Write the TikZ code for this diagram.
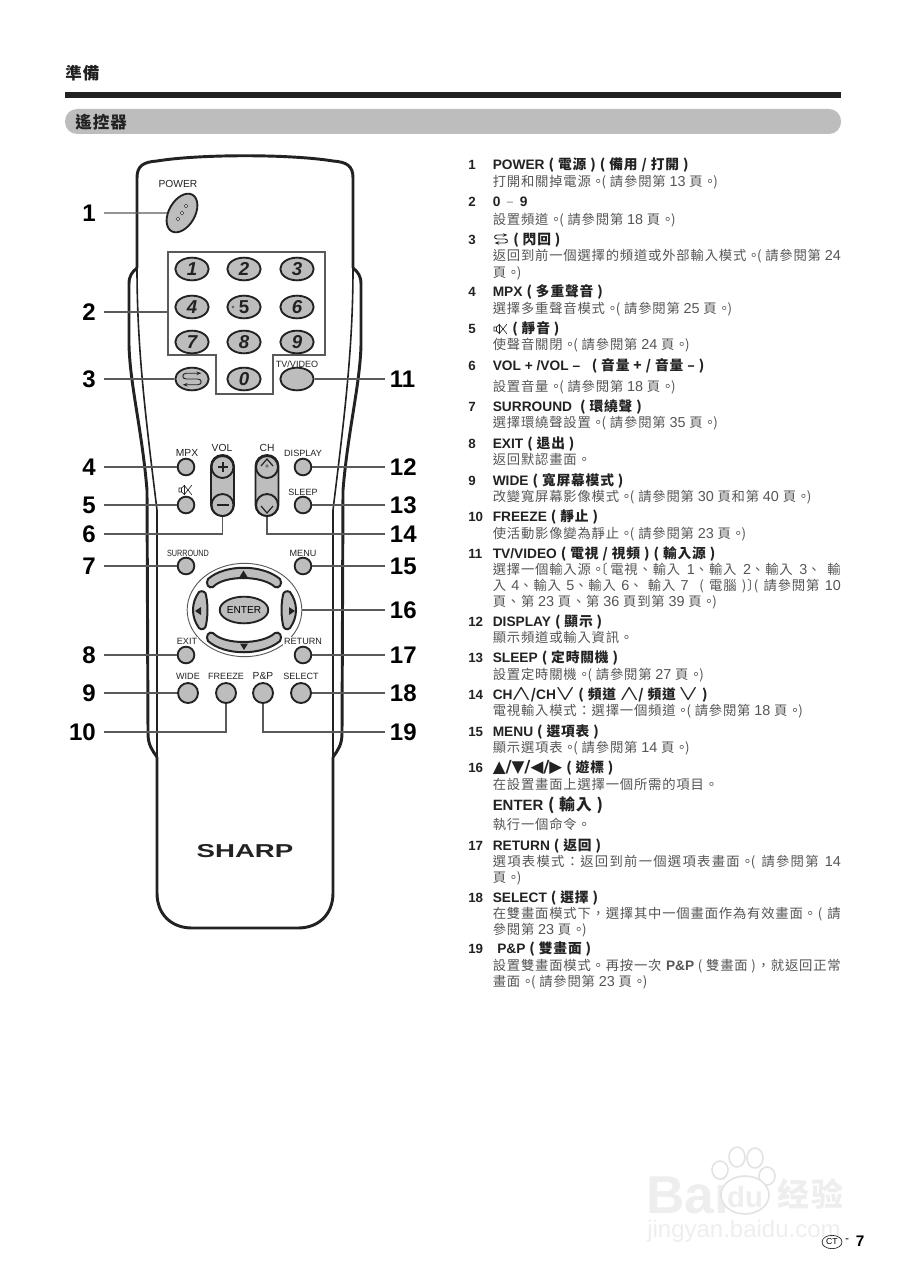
\documentclass[tikz,border=0pt]{standalone}
\usepackage{fontspec}
\usepackage{amssymb}
\setmainfont{Noto Sans CJK TC}[LetterSpace=6]
\newfontfamily\helv{Liberation Sans}
\newfontfamily\symb{DejaVu Sans}
\usetikzlibrary{shapes.geometric,arrows.meta}
\definecolor{keygray}{HTML}{BDBDBD}
\definecolor{ink}{HTML}{222222}
\definecolor{leadgray}{HTML}{5A5A5A}
\definecolor{bodygray}{HTML}{555555}
\newcommand\hv[1]{{\helv\fontsize{10.3}{10}\selectfont #1}}
\newcommand\dg[1]{{\helv\fontsize{10.8}{10}\selectfont #1}}
\newcommand\seep[1]{。\kern-2.5pt( 請參閱第 \dg{#1}}
\newcommand\yo{頁。\kern-2.5pt)}
\newcommand\ye{ \yo}
\newcommand\justline[1]{\makebox[261pt][s]{#1}}
\newcommand\wedgeup{\smash{\raisebox{1.5pt}{\scalebox{1.6}[.95]{$\bigwedge$}}}}
\newcommand\wedgedn{\smash{\raisebox{1.5pt}{\scalebox{1.6}[.95]{$\bigvee$}}}}
\tikzset{
  key/.style={draw=ink,fill=keygray,line width=1.4pt,inner sep=0pt},
  numkey/.style={key,ellipse,minimum width=25pt,minimum height=17pt,
    font=\helv\bfseries\itshape\fontsize{14}{14}\selectfont,text=ink},
  roundkey/.style={key,circle,minimum size=12.5pt},
  widekey/.style={key,circle,minimum size=15pt},
  leader/.style={draw=leadgray,line width=.8pt},
  lnum/.style={anchor=east,inner xsep=6pt,inner ysep=0pt,font=\helv\bfseries\fontsize{18}{18}\selectfont},
  rnum/.style={anchor=west,inner xsep=3.5pt,inner ysep=0pt,font=\helv\bfseries\fontsize{18}{18}\selectfont},
  keylabel/.style={inner sep=.5pt,text=ink,font=\helv\fontsize{6.8}{7}\selectfont},
  biglabel/.style={inner sep=.5pt,text=ink,font=\helv\fontsize{7.7}{8}\selectfont},
  itemnum/.style={anchor=base west,inner sep=0pt,text=ink,font=\helv\bfseries\fontsize{10}{10}\selectfont},
  headline/.style={anchor=base west,inner sep=0pt,text=ink,font=\bfseries\fontsize{10.3}{10}\selectfont},
  bodyline/.style={anchor=base west,inner sep=0pt,text=bodygray,font=\fontsize{10}{10}\selectfont},
  pawmark/.style={draw=gray!22,fill=white,line width=1.2pt},
  marktext/.style={inner sep=0pt,text=gray!13},
  flash/.pic={\draw[ink,line width=.7pt,{Stealth[length=3.5pt]}-{Stealth[length=3.5pt]}]
    (8,-5) -- (-5,-5) .. controls (-9,-5) and (-9,0) .. (-5,0) -- (5,0)
    .. controls (9,0) and (9,5) .. (5,5) -- (-8,5);},
  mute/.pic={\draw[ink,line width=.45pt] (-7,-2) rectangle (-4.5,2)
    (-4.5,-2) -- (-1.5,-4.5) -- (-1.5,4.5) -- (-4.5,2)
    (-2,-5) -- (6,5) (-2,5) -- (6,-5);},
}
\begin{document}
\begin{tikzpicture}[x=.75pt,y=-.75pt]
  \useasboundingbox (0,0) rectangle (906,1280);
  % page head
  \node[anchor=west,inner sep=0pt,text=ink,font=\bfseries\fontsize{12.4}{13}\selectfont] (chapter) at (65,73) {準備};
  \fill[ink] (65,92) rectangle (841,98);
  \fill[keygray,rounded corners=9pt] (65,109) rectangle (841,134);
  \node[anchor=west,inner sep=0pt,text=ink,font=\bfseries\fontsize{12.4}{13}\selectfont] (section) at (75,122) {遙控器};
  % watermark
  \node[anchor=west,marktext,font=\helv\bfseries\fontsize{40}{40}\selectfont] (wbai) at (646,1194) {Bai};
  \draw[pawmark] (737,1157) ellipse (8 and 10);
  \draw[pawmark] (755,1158) ellipse (8 and 10);
  \draw[pawmark] (720,1170) ellipse (8 and 9);
  \draw[pawmark] (767,1176) ellipse (8 and 9);
  \draw[pawmark] (745,1195) ellipse (24 and 19);
  \node[marktext,font=\helv\bfseries\fontsize{22}{22}\selectfont] (wdu) at (745,1197) {du};
  \node[anchor=west,marktext,font=\bfseries\fontsize{24}{24}\selectfont] (wjy) at (777,1194) {经验};
  \node[anchor=west,marktext,font=\helv\fontsize{18}{18}\selectfont] (wurl) at (647,1231) {jingyan.baidu.com};
  % page number
  \node[ellipse,draw=ink,line width=.5pt,inner sep=0pt,minimum width=15pt,minimum height=10pt,font=\helv\fontsize{6.5}{7}\selectfont] (ct) at (832,1242) {CT};
  \node[inner sep=0pt,font=\helv\fontsize{9}{9}\selectfont] (dash) at (847,1241) {-};
  \node[inner sep=0pt,font=\helv\bfseries\fontsize{11.5}{12}\selectfont] (page) at (860,1241) {7};
  % remote, body
  \draw[ink,line width=2.2pt] (137,268) -- (137,178) .. controls (137,166) and (143,162) .. (157,161)
    .. controls (200,154) and (290,154) .. (333,161) .. controls (347,162) and (353,166) .. (353,178) -- (353,268);
  \draw[ink,line width=2.2pt] (157,757) -- (157,893) .. controls (157,915) and (172,928) .. (192,928) -- (298,928)
    .. controls (318,928) and (333,915) .. (333,893) -- (333,757);
  % groove
  \draw[ink,line width=1.2pt] (137,268) .. controls (137,350) and (146,420) .. (157,510) -- (157,757);
  \draw[ink,line width=1.2pt] (353,268) .. controls (353,350) and (344,420) .. (333,510) -- (333,757);
  % side grips
  \draw[ink,line width=2.2pt] (137,268) .. controls (132,272) and (129,276) .. (129,284) -- (129,345)
    .. controls (130,385) and (142,430) .. (147,490) -- (148,733) .. controls (148,745) and (152,750) .. (157,757);
  \draw[ink,line width=2.2pt] (353,268) .. controls (358,272) and (361,276) .. (361,284) -- (361,345)
    .. controls (360,385) and (348,430) .. (343,490) -- (342,733) .. controls (342,745) and (338,750) .. (333,757);
  % logo
  \node[inner sep=0pt,text=ink,font=\helv\bfseries\fontsize{14}{14}\selectfont] (logo) at (245,851) {\scalebox{1.48}[1]{SHARP}};
  % digit frame
  \draw[leadgray,line width=1.1pt] (168,252) -- (325,252) -- (325,355) -- (273,355) -- (273,394) -- (216,394) -- (216,355) -- (168,355) -- cycle;
  \coordinate (frame) at (168,312);
  % power key
  \node[key,ellipse,rotate=60,minimum width=31.5pt,minimum height=19.5pt] (power) at (182,213) {};
  \draw[ink,line width=.4pt,fill=white] (186,206) circle (1.7) (182,213) circle (1.7) (178,219) circle (1.7);
  \node[biglabel] (lpower) at (178,184) {POWER};
  % digits
  \node[numkey] (k1) at (192,269) {1};
  \node[numkey] (k2) at (244,269) {2};
  \node[numkey] (k3) at (297,269) {3};
  \node[numkey] (k4) at (192,307) {4};
  \node[numkey,font=\helv\bfseries\fontsize{14}{14}\selectfont] (k5) at (244,307) {5};
  \draw[ink,line width=.3pt,fill=white] (233,307) circle (1.2);
  \node[numkey] (k6) at (297,307) {6};
  \node[numkey] (k7) at (192,342) {7};
  \node[numkey] (k8) at (244,342) {8};
  \node[numkey] (k9) at (297,342) {9};
  \node[numkey] (back) at (192,379) {};
  \pic[scale=1.15] at (192,379) {flash};
  \node[numkey] (k0) at (244,379) {0};
  \node[numkey] (tv) at (297,379) {};
  \node[keylabel] (ltv) at (297,364) {TV/VIDEO};
  % left keys
  \node[roundkey] (mpx) at (186,467) {};
  \node[biglabel] (lmpx) at (187,453) {MPX};
  \node[roundkey] (mutekey) at (186,505) {};
  \pic at (186,490) {mute};
  % volume
  \draw[key,rounded corners=8.5pt] (211,455) rectangle (234,516);
  \node[key,circle,minimum size=16.5pt] (volup) at (222.5,467) {};
  \node[key,circle,minimum size=16.5pt] (voldn) at (222.5,505) {};
  \draw[ink,line width=1.5pt] (217.5,467) -- (227.5,467) (222.5,462) -- (222.5,472) (216.5,505) -- (228.5,505);
  \node[biglabel] (lvol) at (222,448) {VOL};
  % channel
  \draw[key,rounded corners=8.5pt] (255.5,455) rectangle (278.5,516);
  \node[key,circle,minimum size=16.5pt] (chup) at (267,467) {};
  \node[key,circle,minimum size=16.5pt] (chdn) at (267,505) {};
  \draw[ink,line width=.9pt] (261,466) -- (267,459) -- (273,466) (261,506) -- (267,513) -- (273,506);
  \draw[ink,line width=.3pt] (267,466) circle (1.3);
  \node[biglabel] (lch) at (267,448) {CH};
  % right keys
  \node[roundkey] (display) at (303,467) {};
  \node[keylabel] (ldisplay) at (303,453) {DISPLAY};
  \node[roundkey] (sleep) at (303,505) {};
  \node[keylabel] (lsleep) at (303,492) {SLEEP};
  \node[roundkey] (surround) at (186,566) {};
  \node[keylabel] (lsurround) at (188,553) {\scalebox{.8}[1]{SURROUND}};
  \node[roundkey] (menu) at (303,566) {};
  \node[keylabel] (lmenu) at (303,553) {MENU};
  % cursor ring
  \node[ellipse,draw=leadgray,line width=.7pt,minimum width=86pt,minimum height=70pt,inner sep=0pt] (ring) at (244.5,610) {};
  \draw[key,line width=1.5pt] (208,579) .. controls (225,564) and (262,564) .. (280,579) .. controls (283,584) and (279,589) .. (275,587)
    .. controls (262,575) and (224,575) .. (213,587) .. controls (209,589) and (205,584) .. (208,579) -- cycle;
  \draw[key,line width=1.5pt] (208,641) .. controls (225,656) and (262,656) .. (280,641) .. controls (283,636) and (279,631) .. (275,633)
    .. controls (262,645) and (224,645) .. (213,633) .. controls (209,631) and (205,636) .. (208,641) -- cycle;
  \draw[key,line width=1.5pt] (199,592) .. controls (191,603) and (191,617) .. (199,628) .. controls (202,631) and (206,628) .. (206,625)
    .. controls (208,615) and (208,605) .. (206,595) .. controls (206,592) and (202,590) .. (199,592) -- cycle;
  \draw[key,line width=1.5pt] (290,592) .. controls (298,603) and (298,617) .. (290,628) .. controls (287,631) and (283,628) .. (283,625)
    .. controls (281,615) and (281,605) .. (283,595) .. controls (283,592) and (287,590) .. (290,592) -- cycle;
  \fill[ink] (243.5,570.5) -- (247.5,577) -- (239.5,577) -- cycle;
  \fill[ink] (244,650) -- (248,643.5) -- (240,643.5) -- cycle;
  \fill[ink] (195,611) -- (201,607) -- (201,615) -- cycle;
  \fill[ink] (295,611) -- (289,607) -- (289,615) -- cycle;
  \node[key,ellipse,minimum width=31.5pt,minimum height=20pt,font=\helv\fontsize{7.6}{8}\selectfont] (enter) at (244,610) {ENTER};
  % bottom keys
  \node[keylabel,fill=white] (lexit) at (187,641) {EXIT};
  \node[roundkey] (exit) at (186,655) {};
  \node[keylabel,fill=white] (lreturn) at (303,641) {RETURN};
  \node[roundkey] (return) at (303,655) {};
  \node[widekey] (wide) at (188,693) {};
  \node[keylabel] (lwide) at (188,676) {WIDE};
  \node[widekey] (freeze) at (226,693) {};
  \node[keylabel] (lfreeze) at (226,676) {FREEZE};
  \node[widekey] (pp) at (263,693) {};
  \node[biglabel] (lpp) at (263,676) {P\&P};
  \node[widekey] (select) at (301,693) {};
  \node[keylabel] (lselect) at (301,676) {SELECT};
  % callouts
  \node[lnum] (n1) at (104,213) {1};
  \node[lnum] (n2) at (104,312) {2};
  \node[lnum] (n3) at (104,379) {3};
  \node[lnum] (n4) at (104,467) {4};
  \node[lnum] (n5) at (104,505) {5};
  \node[lnum] (n6) at (104,534) {6};
  \node[lnum] (n7) at (104,566) {7};
  \node[lnum] (n8) at (104,655) {8};
  \node[lnum] (n9) at (104,693) {9};
  \node[lnum] (n10) at (104,732) {10};
  \node[rnum] (n11) at (385,379) {11};
  \node[rnum] (n12) at (385,467) {12};
  \node[rnum] (n13) at (385,505) {13};
  \node[rnum] (n14) at (385,534) {14};
  \node[rnum] (n15) at (385,566) {15};
  \node[rnum] (n16) at (385,610) {16};
  \node[rnum] (n17) at (385,655) {17};
  \node[rnum] (n18) at (385,693) {18};
  \node[rnum] (n19) at (385,732) {19};
  \draw[leader] (n1) -- (power);
  \draw[leader] (n2) -- (frame);
  \draw[leader] (n3) -- (back);
  \draw[leader] (n4) -- (mpx);
  \draw[leader] (n5) -- (mutekey);
  \draw[leader] (n6) -| (voldn);
  \draw[leader] (n7) -- (surround);
  \draw[leader] (n8) -- (exit);
  \draw[leader] (n9) -- (wide);
  \draw[leader] (n10) -| (freeze);
  \draw[leader] (n11) -- (tv);
  \draw[leader] (n12) -- (display);
  \draw[leader] (n13) -- (sleep);
  \draw[leader] (n14) -| (chdn);
  \draw[leader] (n15) -- (menu);
  \draw[leader] (n16) -- (ring);
  \draw[leader] (n17) -- (return);
  \draw[leader] (n18) -- (select);
  \draw[leader] (n19) -| (pp);
  % list
  \node[itemnum] (i1) at (468,170) {1};
  \node[headline] (h1) at (492.5,170) {\hv{POWER} ( 電源 ) ( 備用 / 打開 )};
  \node[bodyline] (b1) at (492.5,187) {打開和關掉電源\seep{13}\ye};
  \node[itemnum] (i2) at (468,207) {2};
  \node[headline] (h2) at (492.5,207) {\hv{0}\kern4.5pt\textcolor{gray}{\fontseries{m}\selectfont –}\kern4.5pt\hv{9}};
  \node[bodyline] (b2) at (492.5,224) {設置頻道\seep{18}\ye};
  \node[itemnum] (i3) at (468,244) {3};
  \pic[scale=.8] at (501,239) {flash};
  \node[headline] (h3) at (513,244) {( 閃回 )};
  \node[bodyline] (b3) at (492.5,260) {\justline{返回到前一個選擇的頻道或外部輸入模式\seep{24}}};
  \node[bodyline] (c3) at (492.5,277) {\yo};
  \node[itemnum] (i4) at (468,296) {4};
  \node[headline] (h4) at (492.5,296) {\hv{MPX} ( 多重聲音 )};
  \node[bodyline] (b4) at (492.5,313) {選擇多重聲音模式\seep{25}\ye};
  \node[itemnum] (i5) at (468,333) {5};
  \pic at (501,329) {mute};
  \node[headline] (h5) at (512,333) {( 靜音 )};
  \node[bodyline] (b5) at (492.5,349) {使聲音關閉\seep{24}\ye};
  \node[itemnum] (i6) at (468,370) {6};
  \node[headline] (h6) at (492.5,370) {\hv{VOL + /VOL – \ } ( 音量 + / 音量 – )};
  \node[bodyline] (b6) at (492.5,391) {設置音量\seep{18}\ye};
  \node[itemnum] (i7) at (468,411) {7};
  \node[headline] (h7) at (492.5,411) {\hv{SURROUND} \ ( 環繞聲 )};
  \node[bodyline] (b7) at (492.5,427) {選擇環繞聲設置\seep{35}\ye};
  \node[itemnum] (i8) at (468,448) {8};
  \node[headline] (h8) at (492.5,448) {\hv{EXIT} ( 退出 )};
  \node[bodyline] (b8) at (492.5,464) {返回默認畫面。};
  \node[itemnum] (i9) at (468,485) {9};
  \node[headline] (h9) at (492.5,485) {\hv{WIDE} ( 寬屏幕模式 )};
  \node[bodyline] (b9) at (492.5,501) {改變寬屏幕影像模式\seep{30} 頁和第 \dg{40}\ye};
  \node[itemnum] (i10) at (468,521) {10};
  \node[headline] (h10) at (492.5,521) {\hv{FREEZE} ( 靜止 )};
  \node[bodyline] (b10) at (492.5,538) {使活動影像變為靜止\seep{23}\ye};
  \node[itemnum] (i11) at (468,558) {11};
  \node[headline] (h11) at (492.5,558) {\hv{TV/VIDEO} ( 電視 / 視頻 ) ( 輸入源 )};
  \node[bodyline] (b11) at (492.5,574) {\justline{選擇一個輸入源。\kern-8pt〔\kern2pt 電視、輸入 \dg{1}、輸入 \dg{2}、輸入 \dg{3}、 輸}};
  \node[bodyline] (c11) at (492.5,590) {\justline{入 \dg{4}、輸入 \dg{5}、輸入 \dg{6}、 輸入 \dg{7} \ ( 電腦 )〕\kern-5pt( 請參閱第 \dg{10}}};
  \node[bodyline] (d11) at (492.5,606) {頁、第 \dg{23} 頁、第 \dg{36} 頁到第 \dg{39}\ye};
  \node[itemnum] (i12) at (468,626) {12};
  \node[headline] (h12) at (492.5,626) {\hv{DISPLAY} ( 顯示 )};
  \node[bodyline] (b12) at (492.5,642) {顯示頻道或輸入資訊。};
  \node[itemnum] (i13) at (468,662) {13};
  \node[headline] (h13) at (492.5,662) {\hv{SLEEP} ( 定時關機 )};
  \node[bodyline] (b13) at (492.5,679) {設置定時關機\seep{27}\ye};
  \node[itemnum] (i14) at (468,699) {14};
  \node[headline] (h14) at (492.5,699) {\hv{CH}\wedgeup/\hv{CH}\wedgedn\ ( 頻道 \wedgeup/ 頻道 \wedgedn\ )};
  \node[bodyline] (b14) at (492.5,715) {電視輸入模式：選擇一個頻道\seep{18}\ye};
  \node[itemnum] (i15) at (468,736) {15};
  \node[headline] (h15) at (492.5,736) {\hv{MENU} ( 選項表 )};
  \node[bodyline] (b15) at (492.5,752) {顯示選項表\seep{14}\ye};
  \node[itemnum] (i16) at (468,772) {16};
  \node[headline] (h16) at (492.5,772) {{\symb\fontsize{12.5}{12}\selectfont ▲/▼/◀/▶} ( 遊標 )};
  \node[bodyline] (b16) at (492.5,789) {在設置畫面上選擇一個所需的項目。};
  \node[headline,font=\bfseries\fontsize{12}{12}\selectfont] (h16b) at (492.5,810) {{\helv\fontsize{11.2}{12}\selectfont ENTER} ( 輸入 )};
  \node[bodyline] (b16b) at (492.5,829) {執行一個命令。};
  \node[itemnum] (i17) at (468,850) {17};
  \node[headline] (h17) at (492.5,850) {\hv{RETURN} ( 返回 )};
  \node[bodyline] (b17) at (492.5,866) {\justline{\addfontfeature{LetterSpace=9.5}選項表模式：返回到前一個選項表畫面\seep{14}}};
  \node[bodyline] (c17) at (492.5,882) {\yo};
  \node[itemnum] (i18) at (468,902) {18};
  \node[headline] (h18) at (492.5,902) {\hv{SELECT} ( 選擇 )};
  \node[bodyline] (b18) at (492.5,918) {\justline{在雙畫面模式下，選擇其中一個畫面作為有效畫面。( 請}};
  \node[bodyline] (c18) at (492.5,934) {參閱第 \dg{23}\ye};
  \node[itemnum] (i19) at (468,953) {19};
  \node[headline] (h19) at (497,953) {\hv{P\&P} ( 雙畫面 )};
  \node[bodyline] (b19) at (492.5,970) {\justline{設置雙畫面模式。再按一次 \textbf{\hv{P\&P}} ( 雙畫面 )，就返回正常}};
  \node[bodyline] (c19) at (492.5,986) {畫面\seep{23}\ye};
\end{tikzpicture}
\end{document}
